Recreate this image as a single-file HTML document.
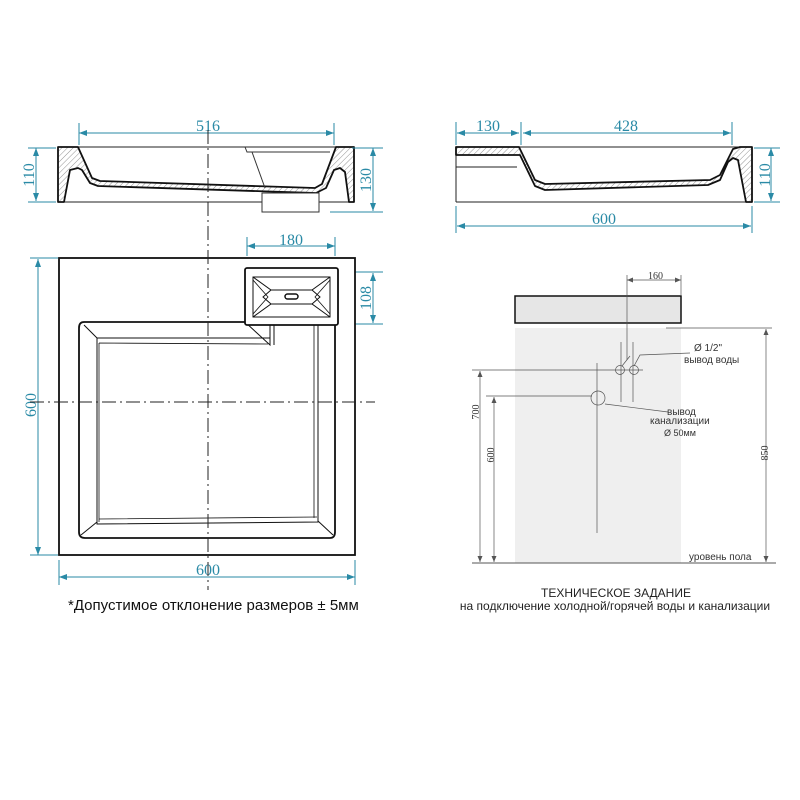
<!DOCTYPE html>
<html><head><meta charset="utf-8"><style>html,body{margin:0;padding:0;background:#fff}svg{display:block}</style></head><body>
<svg width="800" height="800" viewBox="0 0 800 800" xmlns="http://www.w3.org/2000/svg" font-family="Liberation Serif, serif">
<defs>
<pattern id="h" width="4" height="4" patternUnits="userSpaceOnUse" patternTransform="rotate(45)"><line x1="0" y1="0" x2="0" y2="4" stroke="#777" stroke-width="0.8"/></pattern>
<marker id="a" markerWidth="8" markerHeight="6" refX="8" refY="3" orient="auto-start-reverse" markerUnits="userSpaceOnUse"><path d="M0,0 L8,3 L0,6 z" fill="#2a8aa6"/></marker>
<marker id="g" markerWidth="6" markerHeight="5" refX="6" refY="2.5" orient="auto-start-reverse" markerUnits="userSpaceOnUse"><path d="M0,0 L6,2.5 L0,5 z" fill="#555"/></marker>
</defs>
<rect width="800" height="800" fill="#fff"/>

<g stroke="#222" fill="none" stroke-width="1">
<line x1="78" y1="147" x2="336" y2="147"/>
<line x1="58" y1="202" x2="354" y2="202"/>
</g>
<path d="M58,147 L78,147 L92,178 L100,181 L315,188 L322,184 L336,147 L354,147 L354,202 L349,202 L345,172 L340,168 L334,170 L326,188 L316,193 L98,186 L90,183 L82,170 L78,168 L70,170 L64,202 L58,202 Z" fill="url(#h)" stroke="#111" stroke-width="1.8" stroke-linejoin="round"/>
<g stroke="#333" fill="none" stroke-width="1">
<path d="M245,147 L247,152 L330,152"/>
<path d="M252,152 L265,188"/>
<rect x="262" y="193" width="57" height="19" fill="#fff"/>
</g>
<g stroke="#2a8aa6" stroke-width="1" fill="none">
<line x1="79" y1="133" x2="334" y2="133" marker-start="url(#a)" marker-end="url(#a)"/>
<line x1="79" y1="123" x2="79" y2="145"/><line x1="334" y1="123" x2="334" y2="145"/>
<line x1="36" y1="148" x2="36" y2="201" marker-start="url(#a)" marker-end="url(#a)"/>
<line x1="28" y1="148" x2="56" y2="148"/><line x1="28" y1="202" x2="56" y2="202"/>
<line x1="373" y1="148" x2="373" y2="211" marker-start="url(#a)" marker-end="url(#a)"/>
<line x1="352" y1="148" x2="383" y2="148"/><line x1="330" y1="212" x2="383" y2="212"/>
<line x1="247" y1="246" x2="335" y2="246" marker-start="url(#a)" marker-end="url(#a)"/>
<line x1="247" y1="237" x2="247" y2="256"/><line x1="335" y1="237" x2="335" y2="256"/>
<line x1="373" y1="273" x2="373" y2="323" marker-start="url(#a)" marker-end="url(#a)"/>
<line x1="340" y1="272" x2="383" y2="272"/><line x1="340" y1="324" x2="383" y2="324"/>
<line x1="38" y1="259" x2="38" y2="555" marker-start="url(#a)" marker-end="url(#a)"/>
<line x1="30" y1="258" x2="58" y2="258"/><line x1="30" y1="555" x2="58" y2="555"/>
<line x1="59" y1="577" x2="355" y2="577" marker-start="url(#a)" marker-end="url(#a)"/>
<line x1="59" y1="560" x2="59" y2="585"/><line x1="355" y1="560" x2="355" y2="585"/>
</g>
<g fill="#2a8aa6" font-size="16" text-anchor="middle">
<text x="208" y="131">516</text>
<text x="291" y="245">180</text>
<text x="208" y="575">600</text>
<text transform="translate(34,175) rotate(-90)">110</text>
<text transform="translate(371,180) rotate(-90)">130</text>
<text transform="translate(371,298) rotate(-90)">108</text>
<text transform="translate(36,405) rotate(-90)">600</text>
</g>

<rect x="59" y="258" width="296" height="297" fill="#fff" stroke="#111" stroke-width="1.8"/>
<g stroke="#111" fill="none">
<path d="M245,322 L84,322 Q79,322 79,328 L79,532 Q79,538 85,538 L330,538 Q335,538 335,532 L335,325" stroke-width="1.8"/>
<path d="M84,325 L97,338 L270,338" stroke-width="1"/>
<path d="M245,322 L270,345 L270,325" stroke-width="1"/>
<path d="M97,338 L97,524 L318,522 L318,325" stroke-width="1"/>
<path d="M99,343 L99,522 M99,343 L268,344 M99,519 L317,517 M314,325 L314,518" stroke-width="0.8"/>
<path d="M81,535 L97,522 M333,535 L318,521 M274,325 L274,345" stroke-width="1"/>
<rect x="245" y="268" width="93" height="57" rx="2" stroke-width="1.8" fill="#fff"/>
<rect x="253" y="277" width="77" height="40" stroke-width="1"/>
<path d="M253,277 L271,290 L312,290 L330,277 M253,317 L271,304 L312,304 L330,317 M271,290 L263,297 L271,304 M312,290 L320,297 L312,304" stroke-width="1"/>
<path d="M253,280 L268,297 L253,314 M330,280 L315,297 L330,314" stroke-width="0.8"/>
<rect x="285" y="294" width="13" height="5" rx="2.5" stroke-width="1.5"/>
</g>
<g stroke="#222" stroke-width="1" stroke-dasharray="14,4,2,4">
<line x1="208" y1="130" x2="208" y2="590"/>
<line x1="30" y1="402" x2="375" y2="402"/>
</g>
<text x="68" y="610" font-family="Liberation Sans, sans-serif" font-size="15" fill="#111">*Допустимое отклонение размеров ± 5мм</text>

<g stroke="#222" fill="none" stroke-width="1">
<line x1="456" y1="167" x2="517" y2="167"/>
<line x1="456" y1="147" x2="456" y2="202"/>
<line x1="456" y1="202" x2="752" y2="202"/>
<line x1="519" y1="147" x2="740" y2="147"/>
</g>
<path d="M456,147 L519,147 L535,180 L545,184 L710,180 L720,175 L733,149 L740,147 L752,147 L752,202 L746,202 L738,160 L733,158 L728,162 L720,180 L708,185 L545,190 L535,186 L520,155 L456,155 Z" fill="url(#h)" stroke="#111" stroke-width="1.8" stroke-linejoin="round"/>
<g stroke="#2a8aa6" stroke-width="1" fill="none">
<line x1="457" y1="133" x2="519" y2="133" marker-start="url(#a)" marker-end="url(#a)"/>
<line x1="523" y1="133" x2="731" y2="133" marker-start="url(#a)" marker-end="url(#a)"/>
<line x1="456" y1="122" x2="456" y2="145"/><line x1="521" y1="122" x2="521" y2="145"/><line x1="732" y1="122" x2="732" y2="145"/>
<line x1="457" y1="226" x2="751" y2="226" marker-start="url(#a)" marker-end="url(#a)"/>
<line x1="456" y1="206" x2="456" y2="233"/><line x1="752" y1="206" x2="752" y2="233"/>
<line x1="771" y1="148" x2="771" y2="201" marker-start="url(#a)" marker-end="url(#a)"/>
<line x1="754" y1="148" x2="780" y2="148"/><line x1="754" y1="202" x2="780" y2="202"/>
</g>
<g fill="#2a8aa6" font-size="16" text-anchor="middle">
<text x="488" y="131">130</text>
<text x="626" y="131">428</text>
<text x="604" y="224">600</text>
<text transform="translate(770,175) rotate(-90)">110</text>
</g>

<rect x="515" y="328" width="166" height="235" fill="#efefef"/>
<rect x="515" y="296" width="166" height="27" fill="#e6e6e6" stroke="#111" stroke-width="1.5"/>
<g stroke="#555" stroke-width="0.7" fill="none">
<line x1="627" y1="275" x2="627" y2="360"/>
<line x1="681" y1="275" x2="681" y2="296"/>
<line x1="627" y1="280" x2="681" y2="280" marker-start="url(#g)" marker-end="url(#g)"/>
<line x1="621" y1="342" x2="621" y2="402"/><line x1="633" y1="342" x2="633" y2="402"/>
<line x1="597" y1="363" x2="597" y2="533"/>
<line x1="472" y1="370" x2="643" y2="370"/>
<line x1="486" y1="396" x2="592" y2="396"/>
<circle cx="620" cy="370" r="4.5"/><circle cx="634" cy="370" r="4.5"/>
<circle cx="598" cy="398" r="7"/>
<path d="M634,366 L640,355 L690,353"/><path d="M622,366 L630,356"/>
<path d="M605,404 L668,412"/>
<line x1="472" y1="563" x2="776" y2="563" stroke-width="1"/>
<line x1="666" y1="328" x2="772" y2="328"/>
<line x1="480" y1="371" x2="480" y2="562" marker-start="url(#g)" marker-end="url(#g)"/>
<line x1="494" y1="397" x2="494" y2="562" marker-start="url(#g)" marker-end="url(#g)"/>
<line x1="766" y1="329" x2="766" y2="562" marker-start="url(#g)" marker-end="url(#g)"/>
</g>
<g fill="#333" font-size="10">
<text x="648" y="279">160</text>
<text transform="translate(479,412) rotate(-90)" text-anchor="middle">700</text>
<text transform="translate(494,455) rotate(-90)" text-anchor="middle">600</text>
<text transform="translate(768,453) rotate(-90)" text-anchor="middle">850</text>
</g>
<g fill="#333" font-family="Liberation Sans, sans-serif" font-size="10">
<text x="694" y="351">Ø 1/2"</text>
<text x="684" y="363">вывод воды</text>
<text x="667" y="415">вывод</text>
<text x="650" y="424">канализации</text>
<text x="664" y="436" font-size="9">Ø 50мм</text>
<text x="689" y="560">уровень пола</text>
</g>
<g fill="#222" font-family="Liberation Sans, sans-serif" font-size="12" text-anchor="middle">
<text x="616" y="597">ТЕХНИЧЕСКОЕ ЗАДАНИЕ</text>
<text x="615" y="610">на подключение холодной/горячей воды и канализации</text>
</g>
</svg>
</body></html>
